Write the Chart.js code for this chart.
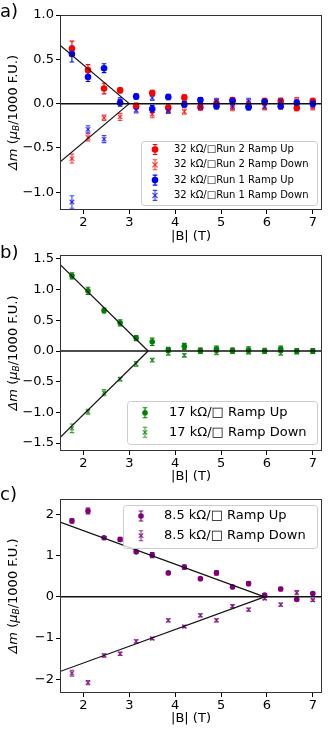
<!DOCTYPE html>
<html>
<head>
<meta charset="utf-8">
<script src="https://cdn.jsdelivr.net/npm/chart.js@4.4.0/dist/chart.umd.min.js"></script>
<style>
  html, body { margin: 0; padding: 0; background: #fff; }
  body { width: 333px; height: 733px; position: relative; overflow: hidden; }
  .panel { position: absolute; left: 0; width: 333px; }
</style>
</head>
<body>
<div class="panel" style="top:0;height:245px"><canvas id="chartA"></canvas></div>
<div class="panel" style="top:245px;height:240px"><canvas id="chartB"></canvas></div>
<div class="panel" style="top:485px;height:248px"><canvas id="chartC"></canvas></div>
<script>
// field values shared by all three panels (T)
const FIELD_T = [1.75, 2.1, 2.45, 2.8, 3.15, 3.5, 3.85, 4.2, 4.55, 4.9, 5.25, 5.6, 5.95, 6.3, 6.65, 7.0];
const X_TICKS = [2, 3, 4, 5, 6, 7];
const X_MIN = 1.49;
const X_MAX = 7.2;

// a) 32 kOhm/sq
const A_RUN2_UP = [0.62, 0.38, 0.17, 0.15, -0.03, 0.12, -0.045, 0.07, -0.04, 0.0, 0.04, -0.03, 0.03, 0.03, -0.05, 0.03];
const A_RUN2_UP_ERR = [0.085, 0.06, 0.06, 0.03, 0.03, 0.03, 0.03, 0.03, 0.03, 0.03, 0.03, 0.03, 0.03, 0.03, 0.03, 0.03];
const A_RUN2_DOWN = [-0.62, -0.38, -0.16, -0.15, -0.02, -0.12, -0.07, -0.09, 0.02, 0.02, -0.05, 0.0, -0.04, -0.03, 0.04, -0.04];
const A_RUN2_DOWN_ERR = [0.05, 0.04, 0.03, 0.04, 0.03, 0.04, 0.03, 0.03, 0.03, 0.03, 0.03, 0.03, 0.03, 0.03, 0.03, 0.03];
const A_RUN1_UP = [0.56, 0.30, 0.40, 0.01, 0.08, -0.06, 0.075, -0.01, 0.04, -0.03, 0.03, -0.04, 0.02, -0.03, 0.01, 0.0];
const A_RUN1_UP_ERR = [0.09, 0.05, 0.05, 0.04, 0.03, 0.04, 0.03, 0.03, 0.03, 0.03, 0.03, 0.03, 0.03, 0.03, 0.03, 0.03];
const A_RUN1_DOWN = [-1.11, -0.29, -0.40, 0.03, -0.075, 0.065, -0.08, 0.0, -0.04, 0.03, -0.03, 0.03, -0.03, 0.03, 0.01, -0.02];
const A_RUN1_DOWN_ERR = [0.07, 0.04, 0.04, 0.04, 0.03, 0.03, 0.03, 0.03, 0.03, 0.03, 0.03, 0.03, 0.03, 0.03, 0.03, 0.03];
const A_FIT_B = [1.49, 3.0];
const A_FIT_M = [0.66, 0.0];
const A_Y_TICKS = [-1.0, -0.5, 0.0, 0.5, 1.0];

// b) 17 kOhm/sq
const B_UP = [1.225, 0.98, 0.66, 0.46, 0.21, 0.15, 0.02, 0.075, 0.01, 0.03, 0.01, 0.02, 0.005, 0.03, 0.0, 0.0];
const B_UP_ERR = [0.05, 0.06, 0.04, 0.05, 0.04, 0.06, 0.04, 0.05, 0.04, 0.05, 0.04, 0.05, 0.04, 0.05, 0.04, 0.04];
const B_DOWN = [-1.26, -0.99, -0.68, -0.46, -0.21, -0.15, -0.04, -0.07, -0.01, -0.03, -0.01, -0.02, -0.01, -0.04, -0.02, -0.01];
const B_DOWN_ERR = [0.07, 0.04, 0.05, 0.03, 0.04, 0.03, 0.03, 0.03, 0.03, 0.03, 0.03, 0.03, 0.03, 0.03, 0.03, 0.03];
const B_FIT_B = [1.49, 3.41];
const B_FIT_M = [1.41, 0.0];
const B_Y_TICKS = [-1.5, -1.0, -0.5, 0.0, 0.5, 1.0, 1.5];

// c) 8.5 kOhm/sq
const C_UP = [1.84, 2.08, 1.43, 1.39, 1.09, 1.01, 0.58, 0.72, 0.44, 0.58, 0.24, 0.32, 0.04, 0.19, -0.065, 0.08];
const C_UP_ERR = [0.05, 0.07, 0.03, 0.05, 0.04, 0.06, 0.03, 0.05, 0.03, 0.05, 0.03, 0.05, 0.03, 0.04, 0.03, 0.03];
const C_DOWN = [-1.85, -2.08, -1.42, -1.38, -1.08, -1.01, -0.57, -0.72, -0.45, -0.57, -0.23, -0.31, -0.04, -0.19, 0.10, -0.08];
const C_DOWN_ERR = [0.07, 0.05, 0.04, 0.04, 0.04, 0.03, 0.04, 0.03, 0.04, 0.04, 0.04, 0.04, 0.03, 0.04, 0.05, 0.03];
const C_FIT_B = [1.49, 5.95];
const C_FIT_M = [1.81, 0.0];
const C_Y_TICKS = [-2, -1, 0, 1, 2];

const FONT = '"DejaVu Sans", sans-serif';
const CAP = 2.3;

function rgba(hex, a) {
  const n = parseInt(hex.slice(1), 16);
  return `rgba(${(n >> 16) & 255}, ${(n >> 8) & 255}, ${n & 255}, ${a})`;
}

function pts(ys) {
  return FIELD_T.map((x, i) => ({ x, y: ys[i] }));
}

function fitLine(bs, ms, sign) {
  return bs.map((b, i) => ({ x: b, y: sign * ms[i] }));
}

function drawMarker(ctx, style, x, y, r, color) {
  ctx.save();
  if (style === 'circle') {
    ctx.fillStyle = color;
    ctx.beginPath();
    ctx.arc(x, y, r, 0, Math.PI * 2);
    ctx.fill();
  } else {
    ctx.strokeStyle = color;
    ctx.lineWidth = 1.2;
    const d = r * 0.8;
    ctx.beginPath();
    ctx.moveTo(x - d, y - d); ctx.lineTo(x + d, y + d);
    ctx.moveTo(x - d, y + d); ctx.lineTo(x + d, y - d);
    ctx.stroke();
  }
  ctx.restore();
}

function drawErrorBar(ctx, x, yLo, yHi, color) {
  ctx.save();
  ctx.strokeStyle = color;
  ctx.lineWidth = 1.1;
  ctx.beginPath();
  ctx.moveTo(x, yLo); ctx.lineTo(x, yHi);
  ctx.moveTo(x - CAP, yLo); ctx.lineTo(x + CAP, yLo);
  ctx.moveTo(x - CAP, yHi); ctx.lineTo(x + CAP, yHi);
  ctx.stroke();
  ctx.restore();
}

const errorBarPlugin = {
  id: 'errorBars',
  beforeDatasetsDraw(chart) {
    const yScale = chart.scales.y;
    chart.data.datasets.forEach((ds, i) => {
      if (!ds.errors) return;
      const meta = chart.getDatasetMeta(i);
      meta.data.forEach((el, j) => {
        const v = ds.data[j].y, e = ds.errors[j];
        drawErrorBar(chart.ctx, el.x, yScale.getPixelForValue(v - e), yScale.getPixelForValue(v + e), ds.barColor);
      });
    });
  }
};

function decorPlugin(cfg) {
  return {
    id: 'decor',
    afterDatasetsDraw(chart) {
      const ctx = chart.ctx;
      const a = chart.chartArea;
      ctx.save();
      ctx.strokeStyle = '#333';
      ctx.lineWidth = 1;
      ctx.strokeRect(a.left + 0.5, a.top + 0.5, a.right - a.left - 1, a.bottom - a.top - 1);
      ctx.restore();
    },
    afterDraw(chart) {
      const ctx = chart.ctx;
      const a = chart.chartArea;
      ctx.save();
      ctx.fillStyle = '#000';
      // panel letter
      ctx.font = `18px ${FONT}`;
      ctx.textAlign = 'left';
      ctx.textBaseline = 'middle';
      ctx.fillText(cfg.letter, 0, cfg.letterY);
      // x title
      ctx.font = `13px ${FONT}`;
      ctx.textAlign = 'center';
      ctx.fillText('|B| (T)', (a.left + a.right) / 2, cfg.xTitleY);
      // y title with mathtext-like pieces
      const parts = [
        { t: 'Δ', f: `italic 13px ${FONT}`, dy: 0 },
        { t: 'm', f: `italic 13px ${FONT}`, dy: 0 },
        { t: ' (', f: `13px ${FONT}`, dy: 0 },
        { t: 'μ', f: `italic 13px ${FONT}`, dy: 0 },
        { t: 'B', f: `italic 9px ${FONT}`, dy: 3 },
        { t: '/1000 F.U.)', f: `13px ${FONT}`, dy: 0 }
      ];
      let total = 0;
      parts.forEach(p => { ctx.font = p.f; p.w = ctx.measureText(p.t).width; total += p.w; });
      ctx.translate(cfg.yTitleX, (a.top + a.bottom) / 2);
      ctx.rotate(-Math.PI / 2);
      ctx.textAlign = 'left';
      let x = -total / 2;
      parts.forEach(p => {
        ctx.font = p.f;
        ctx.fillText(p.t, x, p.dy);
        x += p.w;
      });
      ctx.restore();
      // legend box on top of everything
      const L = cfg.legend;
      ctx.save();
      ctx.fillStyle = 'rgba(255, 255, 255, 0.8)';
      ctx.strokeStyle = '#cccccc';
      ctx.lineWidth = 1;
      ctx.beginPath();
      ctx.roundRect(L.box[0] + 0.5, L.box[1] + 0.5, L.box[2], L.box[3], 3);
      ctx.fill();
      ctx.stroke();
      ctx.font = `${L.fontSize}px ${FONT}`;
      ctx.textAlign = 'left';
      ctx.textBaseline = 'middle';
      L.items.forEach((it, i) => {
        const y = L.rows[i];
        const col = rgba(it.color, it.alpha);
        drawErrorBar(ctx, L.markerX, y + 5, y - 5, col);
        drawMarker(ctx, it.style, L.markerX, y, it.r, col);
        ctx.fillStyle = '#000';
        ctx.fillText(it.label, L.textX, y);
      });
      ctx.restore();
    }
  };
}

function fmt(dec) {
  return v => (v < 0 ? '\u2212' : '') + Math.abs(v).toFixed(dec);
}

function buildPanel(id, cfg) {
  const datasets = [
    {
      data: [{ x: X_MIN, y: 0 }, { x: X_MAX, y: 0 }],
      showLine: true, borderColor: '#111', borderWidth: 1.5, pointRadius: 0
    },
    {
      data: fitLine(cfg.fitB, cfg.fitM, 1),
      showLine: true, borderColor: '#111', borderWidth: 1.2, pointRadius: 0
    },
    {
      data: fitLine(cfg.fitB, cfg.fitM, -1),
      showLine: true, borderColor: '#111', borderWidth: 1.2, pointRadius: 0
    }
  ];
  cfg.series.forEach(s => {
    const col = rgba(s.color, s.alpha);
    datasets.push({
      data: pts(s.y),
      errors: s.err,
      barColor: col,
      showLine: false,
      pointStyle: s.style === 'circle' ? 'circle' : 'crossRot',
      pointRadius: s.r,
      pointBackgroundColor: col,
      pointBorderColor: col,
      pointBorderWidth: s.style === 'circle' ? 0 : 1.2
    });
  });

  const tickFont = { family: FONT, size: 13 };
  new Chart(document.getElementById(id), {
    type: 'scatter',
    data: { datasets },
    options: {
      responsive: true,
      maintainAspectRatio: false,
      animation: false,
      events: [],
      layout: { padding: { left: 0, right: 11, top: cfg.padTop, bottom: 0 } },
      scales: {
        x: {
          type: 'linear', min: X_MIN, max: X_MAX,
          afterBuildTicks: s => { s.ticks = X_TICKS.map(v => ({ value: v })); },
          afterFit: s => { s.height = cfg.xAxisH; },
          ticks: { font: tickFont, color: '#000', padding: 1, maxRotation: 0, autoSkip: false, callback: v => String(v) },
          grid: { drawOnChartArea: false, drawTicks: true, tickLength: 4, color: '#000' },
          border: { display: false }
        },
        y: {
          type: 'linear', min: cfg.yMin, max: cfg.yMax,
          afterBuildTicks: s => { s.ticks = cfg.yTicks.map(v => ({ value: v })); },
          afterFit: s => { s.width = 60; },
          ticks: { font: tickFont, color: '#000', padding: 2, autoSkip: false, callback: fmt(cfg.yDec) },
          grid: { drawOnChartArea: false, drawTicks: true, tickLength: 4, color: '#000' },
          border: { display: false }
        }
      },
      plugins: { legend: { display: false }, tooltip: { enabled: false } }
    },
    plugins: [errorBarPlugin, decorPlugin(cfg)]
  });
}

buildPanel('chartA', {
  yMin: -1.2, yMax: 1.0, yTicks: A_Y_TICKS, yDec: 1,
  padTop: 15, xAxisH: 35, letter: 'a)', letterY: 12, xTitleY: 237, yTitleX: 14,
  fitB: A_FIT_B, fitM: A_FIT_M,
  series: [
    { y: A_RUN1_DOWN, err: A_RUN1_DOWN_ERR, color: '#0000ff', alpha: 0.75, style: 'cross', r: 3.2 },
    { y: A_RUN1_UP, err: A_RUN1_UP_ERR, color: '#0000ff', alpha: 1, style: 'circle', r: 3.3 },
    { y: A_RUN2_DOWN, err: A_RUN2_DOWN_ERR, color: '#ff0000', alpha: 0.75, style: 'cross', r: 3.2 },
    { y: A_RUN2_UP, err: A_RUN2_UP_ERR, color: '#ff0000', alpha: 1, style: 'circle', r: 3.3 }
  ],
  legend: {
    box: [141, 141, 176, 64], rows: [149.5, 164.8, 180.1, 195.4], markerX: 155, textX: 174, fontSize: 10,
    items: [
      { label: '32 kΩ/□Run 2 Ramp Up', color: '#ff0000', alpha: 1, style: 'circle', r: 3.3 },
      { label: '32 kΩ/□Run 2 Ramp Down', color: '#ff0000', alpha: 0.75, style: 'cross', r: 3.2 },
      { label: '32 kΩ/□Run 1 Ramp Up', color: '#0000ff', alpha: 1, style: 'circle', r: 3.3 },
      { label: '32 kΩ/□Run 1 Ramp Down', color: '#0000ff', alpha: 0.75, style: 'cross', r: 3.2 }
    ]
  }
});

buildPanel('chartB', {
  yMin: -1.63, yMax: 1.565, yTicks: B_Y_TICKS, yDec: 1,
  padTop: 10, xAxisH: 34, letter: 'b)', letterY: 8, xTitleY: 232, yTitleX: 14,
  fitB: B_FIT_B, fitM: B_FIT_M,
  series: [
    { y: B_DOWN, err: B_DOWN_ERR, color: '#008000', alpha: 0.75, style: 'cross', r: 2.8 },
    { y: B_UP, err: B_UP_ERR, color: '#008000', alpha: 1, style: 'circle', r: 2.8 }
  ],
  legend: {
    box: [127, 156, 190, 43], rows: [167.7, 187.3], markerX: 145, textX: 169, fontSize: 13,
    items: [
      { label: '17 kΩ/□ Ramp Up', color: '#008000', alpha: 1, style: 'circle', r: 2.8 },
      { label: '17 kΩ/□ Ramp Down', color: '#008000', alpha: 0.75, style: 'cross', r: 2.8 }
    ]
  }
});

buildPanel('chartC', {
  yMin: -2.33, yMax: 2.37, yTicks: C_Y_TICKS, yDec: 0,
  padTop: 14, xAxisH: 40, letter: 'c)', letterY: 10, xTitleY: 234, yTitleX: 14,
  fitB: C_FIT_B, fitM: C_FIT_M,
  series: [
    { y: C_DOWN, err: C_DOWN_ERR, color: '#800080', alpha: 0.8, style: 'cross', r: 2.8 },
    { y: C_UP, err: C_UP_ERR, color: '#800080', alpha: 1, style: 'circle', r: 2.8 }
  ],
  legend: {
    box: [123, 20, 194, 43], rows: [31, 50.7], markerX: 141, textX: 164, fontSize: 13,
    items: [
      { label: '8.5 kΩ/□ Ramp Up', color: '#800080', alpha: 1, style: 'circle', r: 2.8 },
      { label: '8.5 kΩ/□ Ramp Down', color: '#800080', alpha: 0.8, style: 'cross', r: 2.8 }
    ]
  }
});
</script>
</body>
</html>
